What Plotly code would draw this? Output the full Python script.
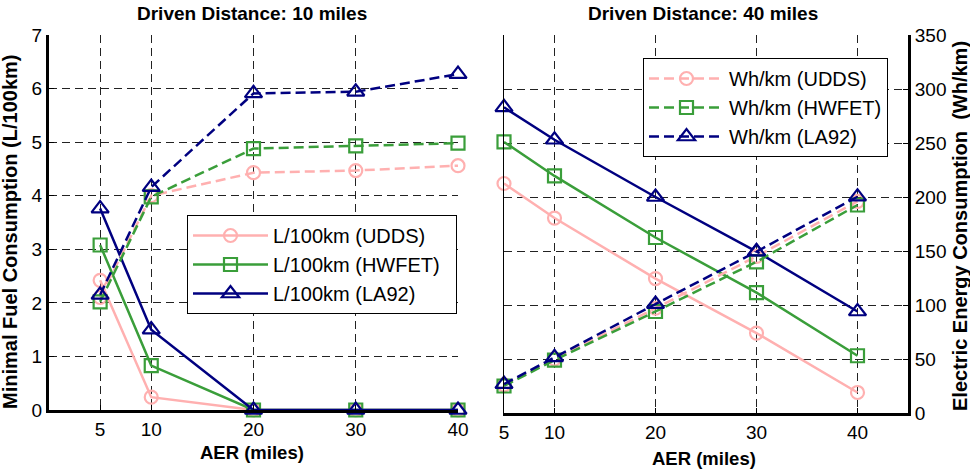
import plotly.graph_objects as go

# ---- data ----
aer = [5, 10, 20, 30, 40]
cycles = ["UDDS", "HWFET", "LA92"]

# Driven distance 10 miles
fuel10 = {
    "UDDS": [2.42, 0.24, 0.0, 0.0, 0.0],
    "HWFET": [3.08, 0.83, 0.0, 0.0, 0.0],
    "LA92": [3.76, 1.50, 0.0, 0.0, 0.0],
}
elec10 = {
    "UDDS": [105, 200, 221.5, 223.5, 228],
    "HWFET": [101, 199, 244, 246.5, 249],
    "LA92": [107.5, 208, 295.5, 297, 313.5],
}
# Driven distance 40 miles
fuel40 = {
    "UDDS": [4.25, 3.61, 2.49, 1.48, 0.38],
    "HWFET": [5.02, 4.39, 3.25, 2.23, 1.06],
    "LA92": [5.66, 5.06, 4.00, 2.99, 1.88],
}
elec40 = {
    "UDDS": [26, 50, 97, 145, 196],
    "HWFET": [25, 49, 94, 140, 192.6],
    "LA92": [26.8, 51.5, 100.9, 149.4, 200.3],
}

colors = {"UDDS": "#FFB0B0", "HWFET": "#3A9E3A", "LA92": "#000080"}
symbols = {"UDDS": "circle-open", "HWFET": "square-open", "LA92": "triangle-up-open"}
msize = {"UDDS": 13, "HWFET": 13, "LA92": 15}

FONT = "Liberation Sans, Arial, sans-serif"
DASH = "10px,5px"

fig = go.Figure()


def add(x, y, name, c, dash, xa, ya, legend, showlegend):
    fig.add_trace(go.Scatter(
        x=x, y=y, name=name, mode="lines+markers",
        line=dict(color=colors[c], width=2.5, dash=dash),
        marker=dict(symbol=symbols[c], size=msize[c], color=colors[c],
                    line=dict(color=colors[c], width=2.2)),
        xaxis=xa, yaxis=ya, legend=legend, showlegend=showlegend,
        cliponaxis=False,
    ))


NB = "\u00a0"
# left panel
for c in cycles:
    add(aer, fuel10[c], f"L/100km ({c})" + NB * 2, c, "solid", "x", "y", "legend", True)
for c in cycles:
    add(aer, elec10[c], f"Wh/km ({c}) 10", c, DASH, "x", "y3", "legend", False)
# right panel
for c in cycles:
    add(aer, fuel40[c], f"L/100km ({c}) 40", c, "solid", "x2", "y2", "legend2", False)
for c in cycles:
    add(aer, elec40[c], f"Wh/km ({c})", c, DASH, "x2", "y4", "legend2", True)

W, H = 970, 472
L, R, T, B = 49, 62, 35, 59
pw, ph = W - L - R, H - T - B


def px(xp):
    return (xp - L) / pw


def py(yp):
    return (H - B - yp) / ph


grid = dict(showgrid=True, gridcolor="#222", griddash="8px,5px", gridwidth=1)
tickf = dict(family=FONT, size=19, color="black")

fig.update_layout(
    width=W, height=H, margin=dict(l=L, r=R, t=T, b=B),
    paper_bgcolor="white", plot_bgcolor="white",
    font=dict(family=FONT, color="black"),
    xaxis=dict(domain=[0, px(458)], range=[0, 40], tickvals=aer, anchor="y",
               showline=True, linecolor="black", linewidth=3, ticks="inside",
               ticklen=5, tickcolor="black", zeroline=False, tickfont=tickf, **grid),
    yaxis=dict(domain=[py(410), 1], range=[0, 7], dtick=1, anchor="x",
               showline=True, linecolor="black", linewidth=3, ticks="inside",
               ticklen=5, tickcolor="black", zeroline=False, tickfont=tickf, **grid),
    yaxis3=dict(overlaying="y", range=[0, 350], visible=False, anchor="x"),
    xaxis2=dict(domain=[px(504), 1], range=[5, 45], tickvals=aer, anchor="y2",
                showline=True, linecolor="black", linewidth=3, ticks="inside",
                ticklen=5, tickcolor="black", zeroline=False, tickfont=tickf, **grid),
    yaxis2=dict(domain=[0, 1], range=[0, 7], anchor="x2", showgrid=False,
                showline=True, linecolor="black", linewidth=1,
                showticklabels=False, ticks="", zeroline=False),
    yaxis4=dict(overlaying="y2", side="right", range=[0, 350], dtick=50, anchor="x2",
                showline=True, linecolor="black", linewidth=3, ticks="inside",
                ticklen=5, tickcolor="black", zeroline=False, tickfont=tickf, **grid),
    legend=dict(x=px(187), y=py(215), xanchor="left", yanchor="top",
                bordercolor="black", borderwidth=1, bgcolor="white",
                font=dict(family=FONT, size=20), itemwidth=75),
    legend2=dict(x=px(643), y=py(58), xanchor="left", yanchor="top",
                 bordercolor="black", borderwidth=1, bgcolor="white",
                 font=dict(family=FONT, size=20), itemwidth=75),
    showlegend=True,
)

ann = [
    dict(text="<b>Driven Distance: 10 miles</b>", x=px(252), y=py(14), size=19, angle=0),
    dict(text="<b>Driven Distance: 40 miles</b>", x=px(703), y=py(14), size=19, angle=0),
    dict(text="<b>AER (miles)</b>", x=px(252), y=py(452), size=18.5, angle=0),
    dict(text="<b>AER (miles)</b>", x=px(704), y=py(458), size=18.5, angle=0),
    dict(text="<b>Minimal Fuel Consumption (L/100km)</b>", x=px(10), y=py(232), size=20, angle=-90),
    dict(text="<b>Electric Energy Consumption  (Wh/km)</b>", x=px(960), y=py(226), size=20, angle=-90),
]
for a in ann:
    fig.add_annotation(text=a["text"], x=a["x"], y=a["y"], xref="paper", yref="paper",
                       xanchor="center", yanchor="middle", showarrow=False,
                       textangle=a["angle"], font=dict(family=FONT, size=a["size"], color="black"))

fig.write_html("out.html")
